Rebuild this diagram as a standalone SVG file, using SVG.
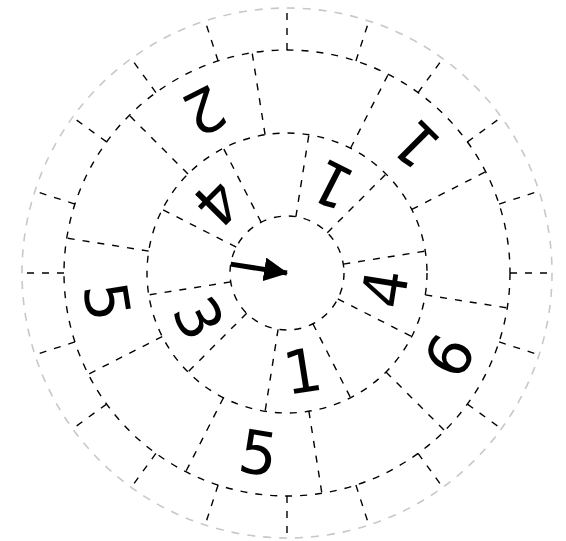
<svg xmlns="http://www.w3.org/2000/svg" width="566" height="541" viewBox="0 0 566 541">
<style>
.ring{fill:none;stroke:#000;stroke-width:1.4;stroke-dasharray:7,8}
.outer{fill:none;stroke:#c8c8c8;stroke-width:1.6;stroke-dasharray:8,8}
.rad line{stroke:#000;stroke-width:1.4;stroke-dasharray:7,8}
.num{font-family:"DejaVu Sans",sans-serif;font-size:60px;text-anchor:middle;fill:#000}
</style>
<defs>
<marker id="ah" markerUnits="userSpaceOnUse" markerWidth="24" markerHeight="24" viewBox="0 0 22 22" refX="21" refY="11" orient="auto">
<path d="M0,0 L22,11 L0,22 Z" fill="#000"/>
</marker>
</defs>
<rect width="566" height="541" fill="#fff"/>
<g id="rings">
<circle class="outer" cx="287" cy="273" r="265"/>
<circle class="ring" cx="287" cy="273" r="223"/>
<circle class="ring" cx="287" cy="273" r="140"/>
<circle class="ring" cx="287" cy="273" r="57"/>
</g>
<g id="connectors" class="rad">
<line x1="337.79" y1="298.88" x2="411.74" y2="336.56"/>
<line x1="312.88" y1="323.79" x2="350.56" y2="397.74"/>
<line x1="278.09" y1="329.30" x2="265.10" y2="411.28"/>
<line x1="246.70" y1="313.30" x2="188.01" y2="371.99"/>
<line x1="230.70" y1="281.91" x2="148.72" y2="294.90"/>
<line x1="236.21" y1="247.12" x2="162.26" y2="209.44"/>
<line x1="261.12" y1="222.21" x2="223.44" y2="148.26"/>
<line x1="295.91" y1="216.70" x2="308.90" y2="134.72"/>
<line x1="327.30" y1="232.70" x2="385.99" y2="174.01"/>
<line x1="343.30" y1="264.09" x2="425.28" y2="251.10"/>
<line x1="425.28" y1="294.90" x2="507.26" y2="307.88"/>
<line x1="385.99" y1="371.99" x2="444.68" y2="430.68"/>
<line x1="308.90" y1="411.28" x2="321.88" y2="493.26"/>
<line x1="223.44" y1="397.74" x2="185.76" y2="471.69"/>
<line x1="162.26" y1="336.56" x2="88.31" y2="374.24"/>
<line x1="148.72" y1="251.10" x2="66.74" y2="238.12"/>
<line x1="188.01" y1="174.01" x2="129.32" y2="115.32"/>
<line x1="265.10" y1="134.72" x2="252.12" y2="52.74"/>
<line x1="350.56" y1="148.26" x2="388.24" y2="74.31"/>
<line x1="411.74" y1="209.44" x2="485.69" y2="171.76"/>
<line x1="510" y1="273" x2="552" y2="273"/>
<line x1="499.09" y1="341.91" x2="539.04" y2="354.89"/>
<line x1="467.41" y1="404.08" x2="501.39" y2="428.77"/>
<line x1="418.08" y1="453.41" x2="442.77" y2="487.39"/>
<line x1="355.91" y1="485.09" x2="368.89" y2="525.04"/>
<line x1="287" y1="496" x2="287" y2="538"/>
<line x1="218.09" y1="485.09" x2="205.11" y2="525.04"/>
<line x1="155.92" y1="453.41" x2="131.23" y2="487.39"/>
<line x1="106.59" y1="404.08" x2="72.61" y2="428.77"/>
<line x1="74.91" y1="341.91" x2="34.96" y2="354.89"/>
<line x1="64" y1="273" x2="22" y2="273"/>
<line x1="74.91" y1="204.09" x2="34.96" y2="191.11"/>
<line x1="106.59" y1="141.92" x2="72.61" y2="117.23"/>
<line x1="155.92" y1="92.59" x2="131.23" y2="58.61"/>
<line x1="218.09" y1="60.91" x2="205.11" y2="20.96"/>
<line x1="287" y1="50" x2="287" y2="8"/>
<line x1="355.91" y1="60.91" x2="368.89" y2="20.96"/>
<line x1="418.08" y1="92.59" x2="442.77" y2="58.61"/>
<line x1="467.41" y1="141.92" x2="501.39" y2="117.23"/>
<line x1="499.09" y1="204.09" x2="539.04" y2="191.11"/>
</g>
<g id="pointer">
<line x1="230.7" y1="264.1" x2="287" y2="273" stroke="#000" stroke-width="5" marker-end="url(#ah)"/>
</g>
<g id="inner-numbers">
<text class="num" transform="translate(331.72,185.24) rotate(207)" y="22">1</text>
<text class="num" transform="translate(384.29,288.41) rotate(-81)" y="22">4</text>
<text class="num" transform="translate(302.41,370.29) rotate(-9)" y="22">1</text>
<text class="num" transform="translate(199.24,317.72) rotate(63)" y="22">3</text>
<text class="num" transform="translate(217.35,203.35) rotate(135)" y="22">4</text>
</g>
<g id="outer-numbers">
<text class="num" transform="translate(204.60,111.28) rotate(153)" y="22">2</text>
<text class="num" transform="translate(415.34,144.66) rotate(225)" y="22">1</text>
<text class="num" transform="translate(448.72,355.40) rotate(-63)" y="22">6</text>
<text class="num" transform="translate(258.61,452.27) rotate(9)" y="22">5</text>
<text class="num" transform="translate(107.73,301.39) rotate(81)" y="22">5</text>
</g>
</svg>
